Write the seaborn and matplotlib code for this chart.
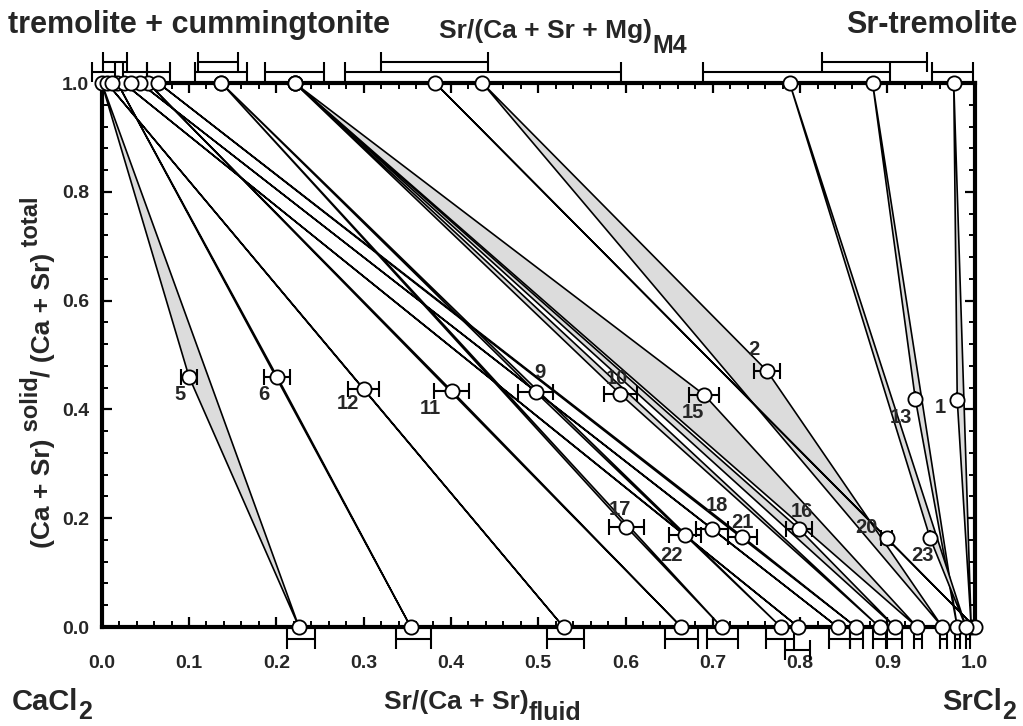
import numpy as np
import matplotlib
matplotlib.use("Agg")
import matplotlib.pyplot as plt
import seaborn as sns
import pandas as pd
from matplotlib.ticker import MultipleLocator

# ---------------- data ----------------
exp_id   = [1, 2, 5, 6, 9, 10, 11, 12, 13, 15, 16, 17, 18, 20, 21, 22, 23]
# amphibole Sr/(Ca+Sr+Mg)M4 (top axis, y = 1)
top_x    = [0.976, 0.436, 0.000, 0.018, 0.137, 0.221, 0.053, 0.006, 0.883,
            0.221, 0.221, 0.137, 0.044, 0.382, 0.065, 0.025, 0.788]
# bulk point (Sr/(Ca+Sr) , solid fraction)
mid_x    = [0.980, 0.762, 0.100, 0.201, 0.497, 0.594, 0.401, 0.300, 0.932,
            0.690, 0.799, 0.601, 0.699, 0.899, 0.734, 0.668, 0.949]
mid_y    = [0.417, 0.471, 0.460, 0.460, 0.432, 0.428, 0.434, 0.437, 0.419,
            0.427, 0.180, 0.184, 0.181, 0.164, 0.166, 0.169, 0.163]
mid_err  = [0.000, 0.0145, 0.0086, 0.0147, 0.020, 0.019, 0.020, 0.018, 0.000,
            0.017, 0.0147, 0.020, 0.018, 0.006, 0.0166, 0.0185, 0.000]
# fluid Sr/(Ca+Sr) (bottom axis, y = 0)
bottom_x = [0.996, 0.963, 0.226, 0.354, 0.778, 0.891, 0.664, 0.529, 0.980,
            0.934, 0.909, 0.710, 0.843, 1.000, 0.864, 0.798, 0.990]

# extra top-axis points without a tie-triangle
top_extra_x = [0.012, 0.034]

# error bars drawn above the top axis
top_bar_x    = [0.0018, 0.038, 0.065, 0.137, 0.221, 0.437, 0.796, 0.975, 0.0155, 0.133, 0.381, 0.885]
top_bar_half = [0.0133, 0.014, 0.013, 0.030, 0.034, 0.158, 0.107, 0.0235, 0.0135, 0.023, 0.061, 0.060]
top_bar_row  = [1, 1, 1, 1, 1, 1, 1, 1, 2, 2, 2, 2]
# error bars drawn below the bottom axis
bot_bar_x    = [0.228, 0.357, 0.531, 0.664, 0.711, 0.777, 0.845, 0.865, 0.891, 0.908,
                0.935, 0.964, 0.980, 0.992, 0.797]
bot_bar_half = [0.016, 0.020, 0.021, 0.019, 0.018, 0.016, 0.012, 0.0076, 0.0077, 0.0086,
                0.005, 0.004, 0.003, 0.0025, 0.014]
bot_bar_row  = [1, 1, 1, 1, 1, 1, 1, 1, 1, 1, 1, 1, 1, 1, 2]

x_ticks = [0.0, 0.1, 0.2, 0.3, 0.4, 0.5, 0.6, 0.7, 0.8, 0.9, 1.0]
y_ticks = [0.0, 0.2, 0.4, 0.6, 0.8, 1.0]

# label offsets (pixels, +y = up) relative to the bulk point
lab_dx = [-17, -13, -9, -13, 4, -3, -21, -16, -14, -11, 3, -6, 5, -20, 0, -13, -8]
lab_dy = [-7, 21, -18, -18, 19, 16, -18, -14, -18, -18, 18, 17, 23, 10, 14, -20, -17]

# ---------------- style ----------------
sns.set_theme(style="ticks")
plt.rcParams['font.family'] = ['Liberation Sans', 'DejaVu Sans']
plt.rcParams['font.weight'] = 'bold'

W, H = 1023, 726
fig = plt.figure(figsize=(W / 100, H / 100), dpi=100)
L, R, T, B = 101.7, 974.7, 83, 627
ax = fig.add_axes([L / W, 1 - B / H, (R - L) / W, (B - T) / H])
ax.set_xlim(0, 1)
ax.set_ylim(0, 1)
ax.set_facecolor('white')

GRAY = '#dcdcdc'
LW = 1.2

# tie triangles
for t, mx, my, b in zip(top_x, mid_x, mid_y, bottom_x):
    ax.fill([t, mx, b], [1, my, 0], facecolor=GRAY, edgecolor='black',
            linewidth=LW, joinstyle='round', zorder=2)

# error bars on bulk points
eb = ax.errorbar(mid_x, mid_y, xerr=mid_err, fmt='none', ecolor='black',
                 elinewidth=1.5, capsize=6, capthick=1.5, zorder=4)

px_y = 1.0 / (B - T)   # data units per pixel in y
def row_bars(xs, halves, rows, base, sign, step1, step2):
    ys = [base + sign * (step1 if r == 1 else step2) * px_y for r in rows]
    e = ax.errorbar(xs, ys, xerr=halves, fmt='none', ecolor='black',
                    elinewidth=1.5, capsize=7, capthick=1.5, zorder=4)
    for art in list(e.lines[1]) + list(e.lines[2]):
        art.set_clip_on(False)

row_bars(top_bar_x, top_bar_half, top_bar_row, 1.0, +1, 11.3, 21.3)
row_bars(bot_bar_x, bot_bar_half, bot_bar_row, 0.0, -1, 12.0, 23.0)

# points
pts = pd.DataFrame({
    'x': list(top_x) + top_extra_x + list(mid_x) + list(bottom_x),
    'y': [1.0] * (len(top_x) + len(top_extra_x)) + list(mid_y) + [0.0] * len(bottom_x),
})
sns.scatterplot(data=pts, x='x', y='y', ax=ax, marker='o', s=105,
                color='white', edgecolor='black', linewidth=1.3,
                clip_on=False, zorder=6, legend=False)

# experiment numbers
for i, mx, my, dx, dy in zip(exp_id, mid_x, mid_y, lab_dx, lab_dy):
    ax.annotate(str(i), (mx, my), xytext=(dx, dy), textcoords='offset pixels',
                ha='center', va='center', fontsize=14.5, fontweight='bold', zorder=7)

# axes styling
for s in ax.spines.values():
    s.set_linewidth(3)
    s.set_color('black')
    s.set_zorder(5)
ax.set_xticks(x_ticks)
ax.set_yticks(y_ticks)
ax.set_xticklabels([f"{v:.1f}" for v in x_ticks])
ax.set_yticklabels([f"{v:.1f}" for v in y_ticks])
ax.xaxis.set_minor_locator(MultipleLocator(0.02))
ax.yaxis.set_minor_locator(MultipleLocator(0.04))
ax.tick_params(which='both', direction='in', top=True, right=True, color='black')
ax.tick_params(which='major', length=7, width=1.6)
ax.tick_params(which='minor', length=4.5, width=1.4)
ax.tick_params(axis='x', which='major', pad=20, labelsize=14)
ax.tick_params(axis='y', which='major', pad=9, labelsize=14)
for lab in ax.get_xticklabels() + ax.get_yticklabels():
    lab.set_fontweight('bold')
ax.set_xlabel('')
ax.set_ylabel('')

# ---------- composed labels with large sub/superscripts ----------
renderer = fig.canvas.get_renderer()

def text_width(s, size):
    t = fig.text(0, 0, s, fontsize=size, fontweight='bold')
    w = t.get_window_extent(renderer).width
    t.remove()
    return w

def compose(segs, cx, cy, rotation=0, align='center'):
    """segs: (text, size, shift_px) ; cx, cy in pixels from top-left; baseline at cy."""
    widths = [text_width(s, sz) for s, sz, _ in segs]
    total = sum(widths)
    if rotation == 0:
        if align == 'center':
            x = cx - total / 2
        elif align == 'left':
            x = cx
        else:
            x = cx - total
        for (s, sz, sh), w in zip(segs, widths):
            fig.text(x / W, (H - cy + sh) / H, s, fontsize=sz, fontweight='bold',
                     ha='left', va='baseline', rotation_mode='anchor')
            x += w
    else:
        yb = (H - cy) - total / 2       # start from bottom (pixels from bottom)
        for (s, sz, sh), w in zip(segs, widths):
            fig.text((cx - sh) / W, yb / H, s, fontsize=sz, fontweight='bold',
                     ha='left', va='baseline', rotation=90, rotation_mode='anchor')
            yb += w

compose([('tremolite + cummingtonite', 22, 0)], 8, 33, align='left')
compose([('Sr-tremolite', 22, 0)], 1017, 33, align='right')
compose([('Sr/(Ca + Sr + Mg)', 19, 0), ('M4', 18, -15)], 563, 38)
compose([('CaCl', 21, 0), ('2', 18, -9)], 12, 710, align='left')
compose([('SrCl', 21, 0), ('2', 18, -9)], 1016, 710, align='right')
compose([('Sr/(Ca + Sr)', 19, 0), ('fluid', 18, -11)], 483, 709)
compose([('(Ca + Sr)', 19, 0), (' solid', 17, 12), ('/ (Ca + Sr)', 19, 0), (' total', 17, 12)],
        50, 372, rotation=90)

fig.savefig('out.png', dpi=100, facecolor='white')
